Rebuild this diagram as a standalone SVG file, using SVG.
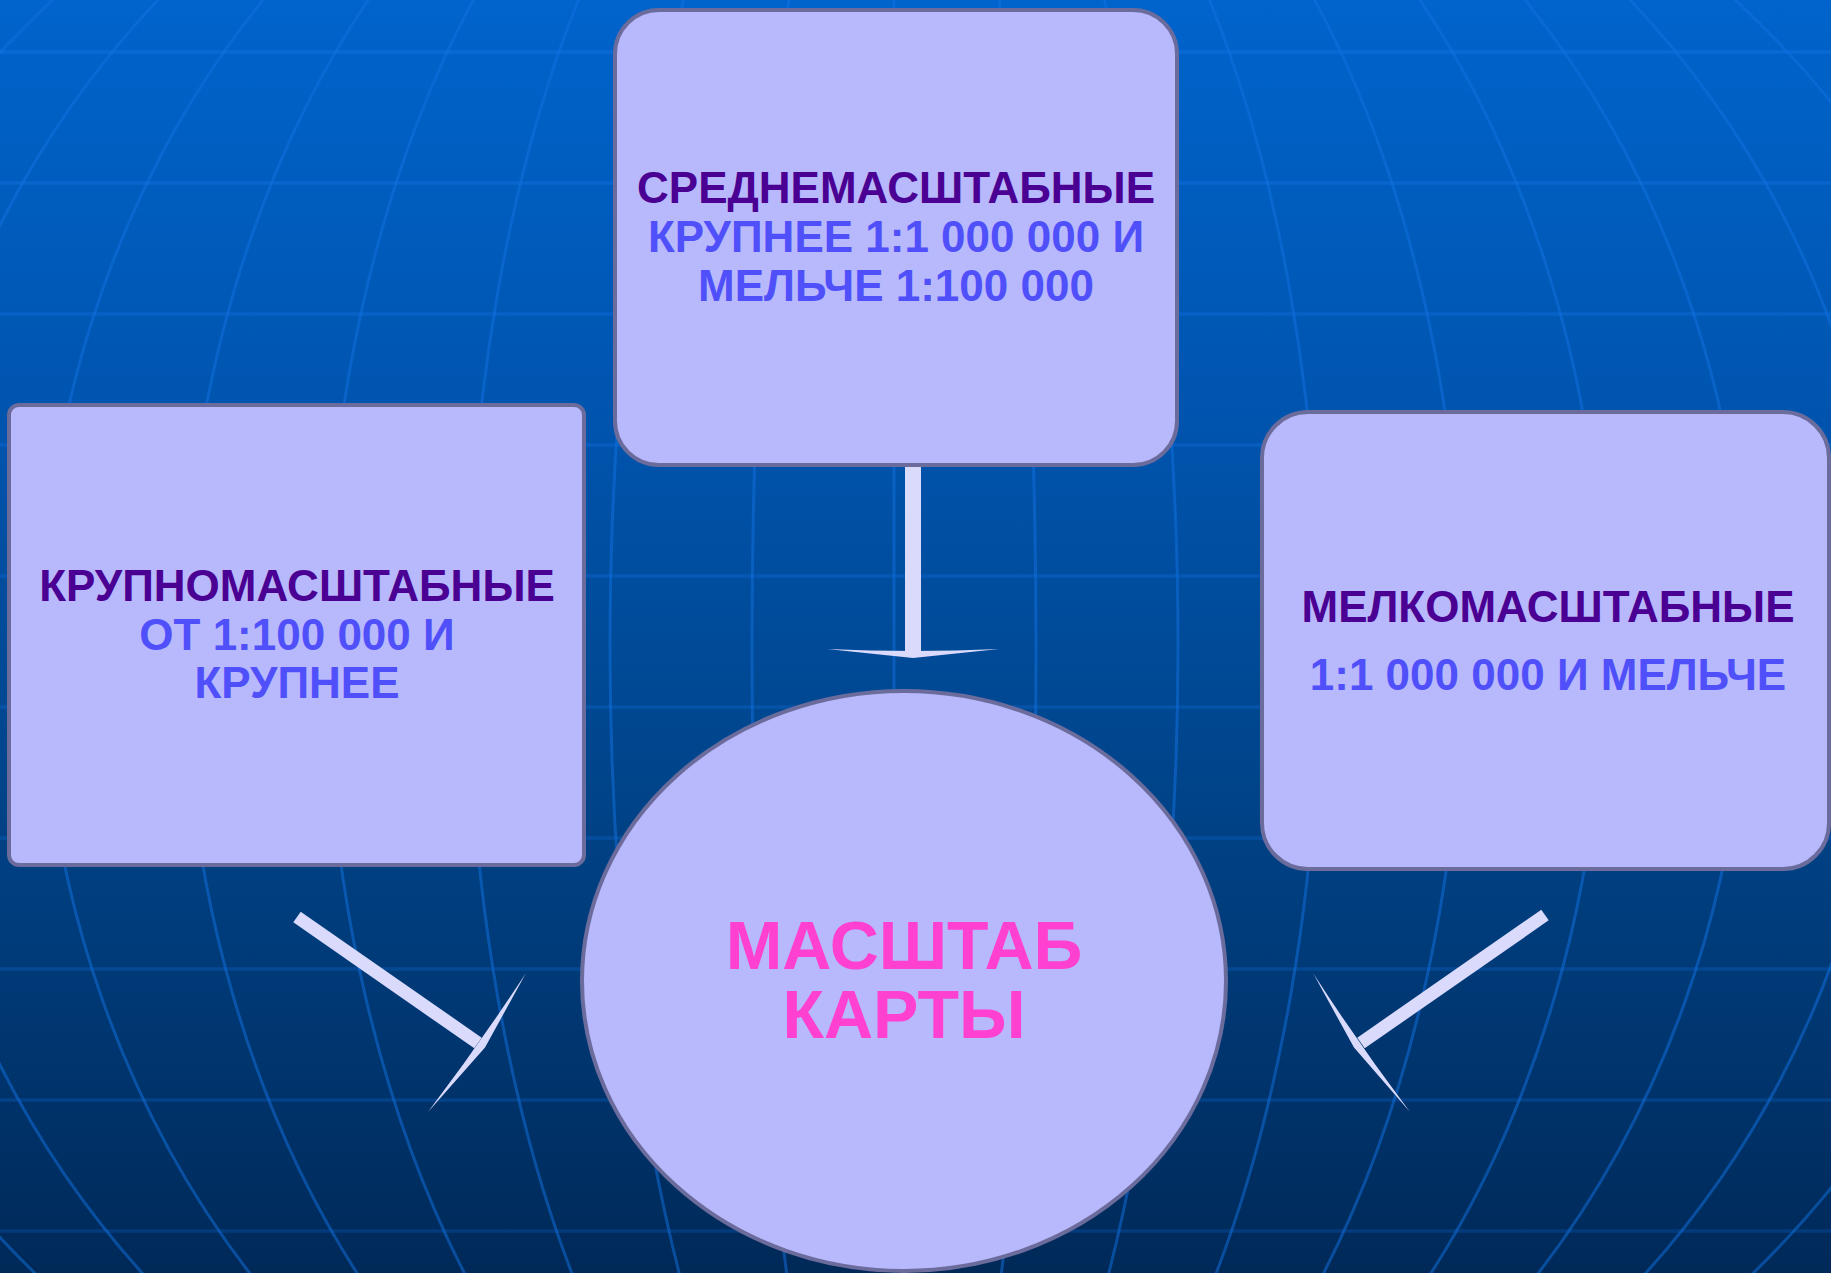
<svg xmlns="http://www.w3.org/2000/svg" width="1831" height="1273" viewBox="0 0 1831 1273">
  <defs>
    <linearGradient id="bg" x1="0" y1="0" x2="0" y2="1">
      <stop offset="0" stop-color="#0064cc"/>
      <stop offset="0.35" stop-color="#0053ac"/>
      <stop offset="0.6" stop-color="#00458c"/>
      <stop offset="1" stop-color="#002958"/>
    </linearGradient>
    <linearGradient id="hg" gradientUnits="userSpaceOnUse" x1="0" y1="0" x2="0" y2="1273">
      <stop offset="0" stop-color="#1272e2" stop-opacity="0.5"/>
      <stop offset="1" stop-color="#0a5cc0" stop-opacity="0.3"/>
    </linearGradient>
    <style>
      .grid { fill: none; stroke: #1272e2; stroke-opacity: 0.5; stroke-width: 3; }
      .hgrid { fill: none; stroke: url(#hg); stroke-width: 3.5; }
      .node { fill: #b8b8fc; stroke: #6c6c9c; stroke-width: 4; }
      .title { font-family: "Liberation Sans", Arial, sans-serif; font-weight: bold; font-size: 44px; fill: #4b0094; text-anchor: middle; }
      .sub { font-family: "Liberation Sans", Arial, sans-serif; font-weight: bold; font-size: 44px; fill: #5050fb; text-anchor: middle; }
      .main { font-family: "Liberation Sans", Arial, sans-serif; font-weight: bold; font-size: 68px; fill: #ff40d0; text-anchor: middle; }
      .shaft { fill: none; stroke: #dadafc; stroke-linecap: butt; }
      .head { fill: #dadafc; stroke: none; }
    </style>
  </defs>

  <g id="background">
    <rect x="0" y="0" width="1831" height="1273" fill="url(#bg)"/>
    <g id="parallels">
      <line class="hgrid" x1="0" y1="52" x2="1831" y2="52"/>
      <line class="hgrid" x1="0" y1="183" x2="1831" y2="183"/>
      <line class="hgrid" x1="0" y1="314" x2="1831" y2="314"/>
      <line class="hgrid" x1="0" y1="445" x2="1831" y2="445"/>
      <line class="hgrid" x1="0" y1="576" x2="1831" y2="576"/>
      <line class="hgrid" x1="0" y1="707" x2="1831" y2="707"/>
      <line class="hgrid" x1="0" y1="838" x2="1831" y2="838"/>
      <line class="hgrid" x1="0" y1="969" x2="1831" y2="969"/>
      <line class="hgrid" x1="0" y1="1100" x2="1831" y2="1100"/>
      <line class="hgrid" x1="0" y1="1231" x2="1831" y2="1231"/>
    </g>
    <g id="meridians">
      <line class="grid" x1="894" y1="0" x2="894" y2="1273"/>
      <ellipse class="grid" cx="894" cy="645" rx="142" ry="960"/>
      <ellipse class="grid" cx="894" cy="645" rx="284" ry="960"/>
      <ellipse class="grid" cx="894" cy="645" rx="426" ry="960"/>
      <ellipse class="grid" cx="894" cy="645" rx="568" ry="960"/>
      <ellipse class="grid" cx="894" cy="645" rx="710" ry="960"/>
      <ellipse class="grid" cx="894" cy="645" rx="852" ry="960"/>
      <ellipse class="grid" cx="894" cy="645" rx="994" ry="960"/>
      <ellipse class="grid" cx="894" cy="645" rx="1136" ry="960"/>
    </g>
  </g>

  <g id="connectors">
    <g id="conn-top">
      <line class="shaft" x1="913" y1="463" x2="913" y2="651" stroke-width="16"/>
      <path class="head" d="M827,649 Q913,653 999,649 L913,658 Z"/>
    </g>
    <g id="conn-left">
      <line class="shaft" x1="297" y1="917" x2="478" y2="1043" stroke-width="13"/>
      <path class="head" d="M526,973 Q479.5,1044 428,1112 L485,1047.6 Z"/>
    </g>
    <g id="conn-right">
      <line class="shaft" x1="1545" y1="915" x2="1361" y2="1043" stroke-width="13"/>
      <path class="head" d="M1313,973 Q1359,1044.2 1410,1112 L1354,1047.6 Z"/>
    </g>
  </g>

  <g id="node-medium">
    <rect class="node" x="615" y="10" width="562" height="455" rx="44" ry="44"/>
    <text class="title" x="896" y="203" font-size="43">СРЕДНЕМАСШТАБНЫЕ</text>
    <text class="sub" x="896" y="252" font-size="43">КРУПНЕЕ 1:1 000 000 И</text>
    <text class="sub" x="896" y="301" font-size="43">МЕЛЬЧЕ 1:100 000</text>
  </g>

  <g id="node-large">
    <rect class="node" x="9" y="405" width="575" height="460" rx="10" ry="10"/>
    <text class="title" x="297" y="601">КРУПНОМАСШТАБНЫЕ</text>
    <text class="sub" x="297" y="650">ОТ 1:100 000 И</text>
    <text class="sub" x="297" y="698">КРУПНЕЕ</text>
  </g>

  <g id="node-small">
    <rect class="node" x="1262" y="412" width="567" height="457" rx="46" ry="46"/>
    <text class="title" x="1548" y="622">МЕЛКОМАСШТАБНЫЕ</text>
    <text class="sub" x="1548" y="690">1:1 000 000 И МЕЛЬЧЕ</text>
  </g>

  <g id="node-center">
    <ellipse class="node" cx="904" cy="981" rx="322" ry="290"/>
    <text class="main" x="904" y="969">МАСШТАБ</text>
    <text class="main" x="904" y="1038">КАРТЫ</text>
  </g>
</svg>
